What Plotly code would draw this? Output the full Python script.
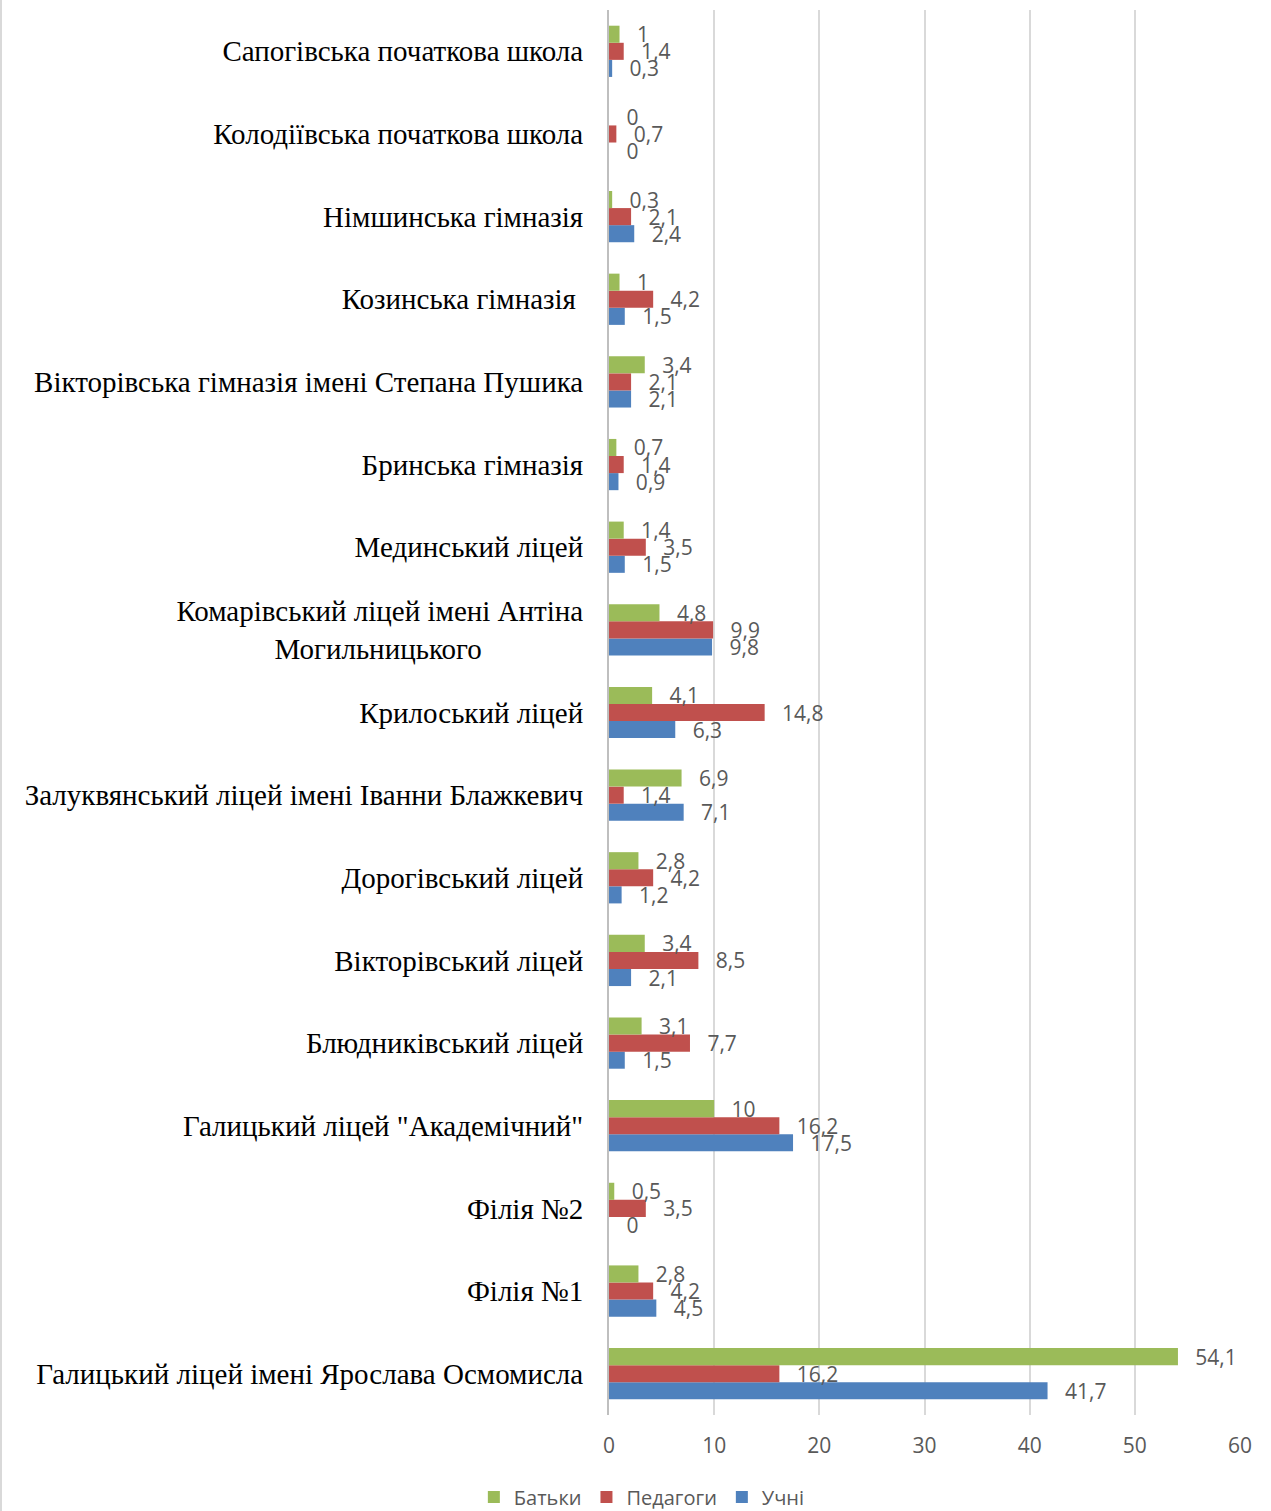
import plotly.graph_objects as go

NB = "\u00a0"

# Categories, top to bottom as shown
categories = [
    "Сапогівська початкова школа",
    "Колодіївська початкова школа",
    "Німшинська гімназія",
    "Козинська гімназія" + NB,
    "Вікторівська гімназія імені Степана Пушика",
    "Бринська гімназія",
    "Мединський ліцей",
    "Комарівський ліцей імені Антіна<br>Могильницького" + NB * 14,
    "Крилоський ліцей",
    "Залуквянський ліцей імені Іванни Блажкевич",
    "Дорогівський ліцей",
    "Вікторівський ліцей",
    "Блюдниківський ліцей",
    "Галицький ліцей \"Академічний\"",
    "Філія №2",
    "Філія №1",
    "Галицький ліцей імені Ярослава Осмомисла",
]

batky = [1, 0, 0.3, 1, 3.4, 0.7, 1.4, 4.8, 4.1, 6.9, 2.8, 3.4, 3.1, 10, 0.5, 2.8, 54.1]
pedagogy = [1.4, 0.7, 2.1, 4.2, 2.1, 1.4, 3.5, 9.9, 14.8, 1.4, 4.2, 8.5, 7.7, 16.2, 3.5, 4.2, 16.2]
uchni = [0.3, 0, 2.4, 1.5, 2.1, 0.9, 1.5, 9.8, 6.3, 7.1, 1.2, 2.1, 1.5, 17.5, 0, 4.5, 41.7]

x_ticks = [0, 10, 20, 30, 40, 50, 60]

series = [
    ("Учні", uchni, "#4F81BD"),
    ("Педагоги", pedagogy, "#C0504D"),
    ("Батьки", batky, "#9BBB59"),
]

def fmt(v):
    s = ("%g" % v).replace(".", ",")
    return NB * 2 + "\u2009" + s

cats_rev = categories[::-1]

fig = go.Figure()
for name, vals, color in series:
    vr = vals[::-1]
    fig.add_trace(go.Bar(
        y=cats_rev, x=vr, name=name, orientation="h",
        marker=dict(color=color, line=dict(width=0)),
        text=[fmt(v) for v in vr], textposition="outside",
        constraintext="none", cliponaxis=False,
        textfont=dict(family="Open Sans", size=21, color="#595959"),
    ))

fig.update_layout(
    width=1271, height=1511,
    paper_bgcolor="white", plot_bgcolor="white",
    barmode="group", bargap=0.38, bargroupgap=0,
    margin=dict(l=609, r=31, t=10, b=96, autoexpand=False),
    showlegend=True,
    legend=dict(orientation="h", traceorder="reversed",
                xref="container", x=0.505, xanchor="center",
                yref="container", y=0.0093, yanchor="middle",
                font=dict(family="Open Sans", size=20, color="#595959"),
                itemwidth=30, tracegroupgap=0),
    xaxis=dict(range=[0, 60], tickvals=x_ticks, showgrid=True,
               gridcolor="#D9D9D9", gridwidth=2, zeroline=False,
               showline=False, ticks="", ticklabelstandoff=16,
               tickfont=dict(family="Open Sans", size=21, color="#595959")),
    yaxis=dict(showgrid=False, showline=True, linecolor="#BFBFBF", linewidth=2,
               ticks="", ticklabelstandoff=18,
               tickfont=dict(family="Liberation Serif", size=29, color="#000000")),
    shapes=[dict(type="line", xref="paper", yref="paper",
                 x0=-608/631, x1=-608/631, y0=-96/1405, y1=1 + 10/1405,
                 line=dict(color="#D9D9D9", width=2))],
)

fig.write_html("out.html", config={"displayModeBar": False},
               post_script="document.body.style.margin='0';document.body.style.overflow='hidden';")
